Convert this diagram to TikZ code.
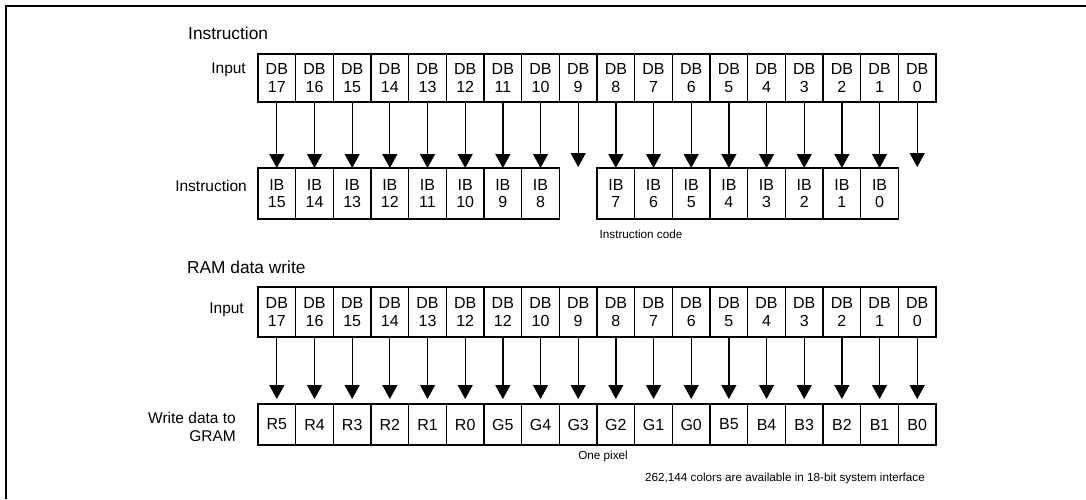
\documentclass[tikz,border=0pt]{standalone}
\usepackage{fontspec}
\setmainfont{Liberation Sans}
\usetikzlibrary{arrows.meta, positioning}
\tikzset{
  cell/.style={rectangle, draw=black, line width=1.3pt, minimum width=37.67pt,
               inner sep=0pt, outer sep=0pt, align=center, font=\fontsize{16}{17.5}\selectfont},
  dbcell/.style={cell, minimum height=48pt},
  ibcell/.style={cell, minimum height=51pt},
  grcell/.style={cell, minimum height=41pt},
  lbl/.style={font=\fontsize{15.5}{18.5}\selectfont, inner sep=0pt},
  heading/.style={font=\fontsize{17.3}{20}\selectfont, inner sep=0pt, anchor=west},
  note/.style={font=\fontsize{11.7}{14}\selectfont, inner sep=0pt},
  bitarrow/.style={-{Triangle[width=15pt,length=14pt]}, line width=1.3pt},
}
\begin{document}
\begin{tikzpicture}[x=1pt, y=-1pt]
  \useasboundingbox (0,0) rectangle (1086,499);
  % frame
  \draw[line width=2.4pt] (5.8,499) -- (5.8,6) -- (1086,6);

  % instruction
  \node[heading] (hInstr) at (188,33) {Instruction};
  \node[lbl, anchor=east] (inA) at (246,70) {Input};
  \node[lbl, anchor=east] (inIB) at (247,186) {Instruction};
  \foreach \n [count=\i from 0] in {17,16,...,0} {
    \pgfmathsetmacro\cx{276.83+37.67*\i}
    \node[dbcell] (dbA-\i) at (\cx,78) {DB\\\n};
  }
  \foreach \i in {0,...,7} {
    \pgfmathsetmacro\cx{276.83+37.67*\i}
    \pgfmathtruncatemacro\lab{15-\i}
    \node[ibcell] (ib-\i) at (\cx,193.5) {IB\\\lab};
    \draw[bitarrow] (dbA-\i.south) -- (ib-\i.north);
  }
  \foreach \i in {9,...,16} {
    \pgfmathsetmacro\cx{276.83+37.67*\i}
    \pgfmathtruncatemacro\lab{16-\i}
    \node[ibcell] (ib-\i) at (\cx,193.5) {IB\\\lab};
    \draw[bitarrow] (dbA-\i.south) -- (ib-\i.north);
  }
  \foreach \i in {8,17} {
    \pgfmathsetmacro\cx{276.83+37.67*\i}
    \coordinate (endA-\i) at (\cx,167);
    \draw[bitarrow] (dbA-\i.south) -- (endA-\i);
  }
  \node[note] (code) at (641,234) {Instruction code};

  % RAM data write
  \node[heading] (hRam) at (187,267) {RAM data write};
  \node[lbl, anchor=east] (inB) at (244,310) {Input};
  \node[lbl, anchor=east, align=right] (inGR) at (236,427) {Write data to\\GRAM};
  \foreach \n [count=\i from 0] in {17,16,15,14,13,12,12,10,9,8,7,6,5,4,3,2,1,0} {
    \pgfmathsetmacro\cx{276.83+37.67*\i}
    \node[dbcell, minimum height=50pt] (dbB-\i) at (\cx,312) {DB\\\n};
  }
  \foreach \g [count=\i from 0] in {R5,R4,R3,R2,R1,R0,G5,G4,G3,G2,G1,G0,B5,B4,B3,B2,B1,B0} {
    \pgfmathsetmacro\cx{276.83+37.67*\i}
    \node[grcell] (gr-\i) at (\cx,424.5) {\g};
    \draw[bitarrow, shorten >=5pt] (dbB-\i.south) -- (gr-\i.north);
  }
  \node[note] (pixel) at (603,456) {One pixel};
  \node[note, anchor=west] (colors) at (645,478) {262,144 colors are available in 18-bit system interface};
\end{tikzpicture}
\end{document}
